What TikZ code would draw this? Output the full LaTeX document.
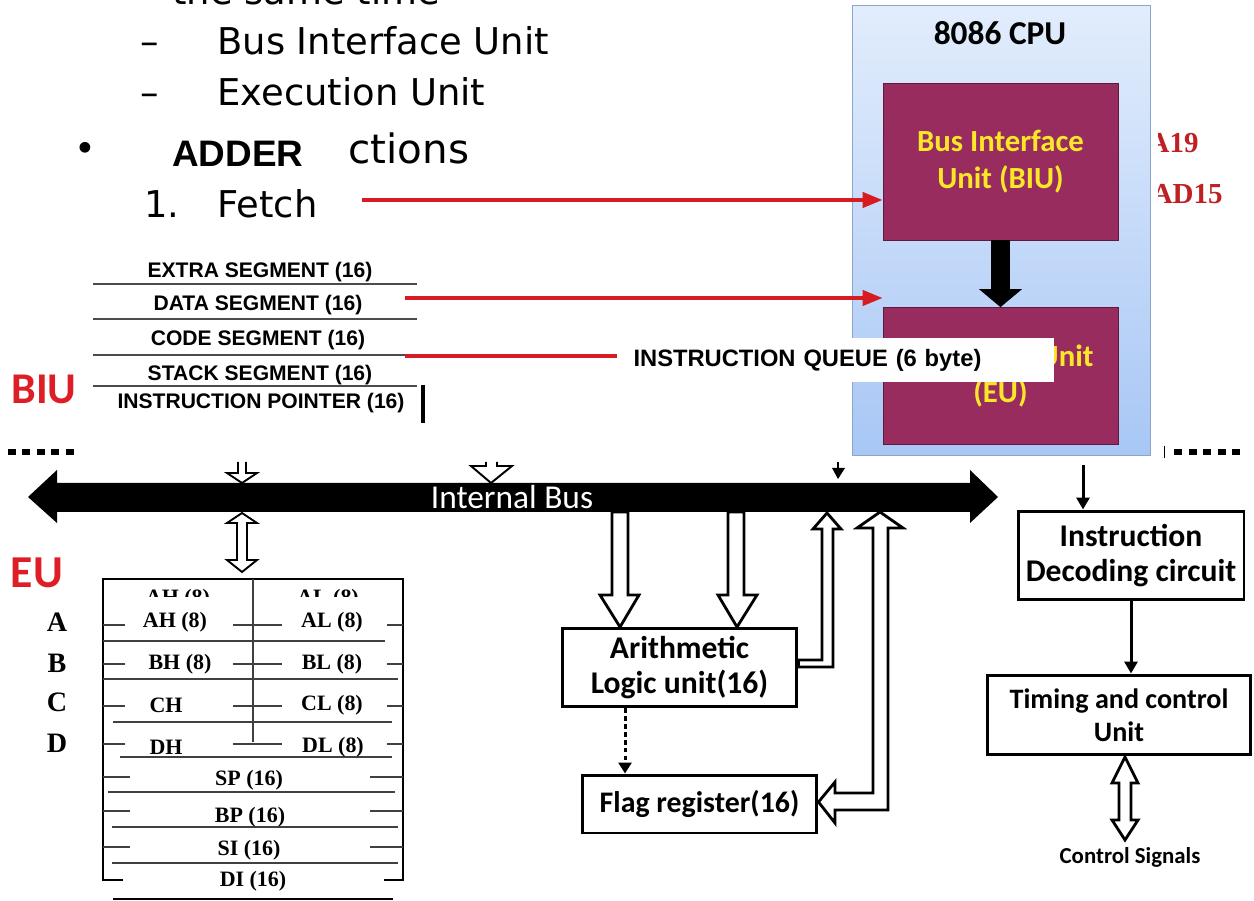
\documentclass[tikz,border=0pt]{standalone}
\usepackage{fontspec}
\setmainfont{Liberation Sans}
\newfontfamily\calfont{Carlito}
\newfontfamily\timfont{Liberation Serif}
\newfontfamily\handfont{DejaVu Sans}
\usetikzlibrary{arrows.meta, positioning}
\definecolor{cputop}{RGB}{226,237,252}
\definecolor{cpubot}{RGB}{168,199,245}
\definecolor{cpuedge}{RGB}{140,165,205}
\definecolor{maroon}{RGB}{153,44,94}
\definecolor{maroonedge}{RGB}{95,25,60}
\definecolor{unityellow}{RGB}{250,232,40}
\definecolor{redline}{RGB}{214,28,32}
\definecolor{redlabel}{RGB}{222,30,38}
\definecolor{redpin}{RGB}{190,32,36}

\begin{document}
\begin{tikzpicture}[x=0.02cm, y=-0.02cm,
    hand/.style    = {font=\handfont\fontsize{21}{25}\selectfont, inner sep=0pt},
    seg/.style     = {font=\bfseries\fontsize{12}{14}\selectfont, inner sep=0pt},
    reg/.style     = {font=\timfont\bfseries\fontsize{12.5}{15}\selectfont, inner sep=0pt},
    row/.style     = {font=\timfont\bfseries\fontsize{16}{18}\selectfont, inner sep=0pt},
    pin/.style     = {font=\timfont\bfseries\fontsize{16.5}{19}\selectfont, text=redpin, inner sep=0pt},
    cpubox/.style  = {draw=cpuedge, top color=cputop, bottom color=cpubot,
                      minimum width=5.96cm, minimum height=9cm},
    unitbox/.style = {draw=maroonedge, fill=maroon, text=unityellow, align=center,
                      minimum width=4.7cm, font=\calfont\bfseries\fontsize{17.5}{21}\selectfont},
    qbox/.style    = {fill=white, text width=8.1cm, align=left, inner xsep=0.32cm,
                      minimum height=0.88cm, font=\bfseries\fontsize{13.5}{16}\selectfont},
    blk/.style     = {draw, line width=1.7pt, fill=white, align=center,
                      font=\calfont\bfseries\fontsize{18}{20}\selectfont},
    lab/.style     = {text=redlabel, font=\calfont\bfseries\fontsize{25}{30}\selectfont},
    redarr/.style  = {draw=redline, line width=2.2pt, -{Triangle[length=0.4cm, width=0.3cm]}},
    redln/.style   = {draw=redline, line width=2.2pt},
    fatarr/.style  = {line width=0.38cm, -{Triangle[length=0.36cm, width=0.84cm]}},
    thinarr/.style = {line width=1.7pt, -{Triangle[length=0.24cm, width=0.26cm]}},
    dotarr/.style  = {line width=1.7pt, dash pattern=on 2.5pt off 2pt,
                      -{Triangle[length=0.22cm, width=0.26cm]}},
    hol/.style     = {draw, line width=1.6pt, fill=white, line join=miter},
    holsm/.style   = {draw, line width=1.1pt, fill=white, line join=miter},
    segline/.style = {line width=0.9pt, gray!60!black},
    regbox/.style  = {line width=1.7pt},
    regln/.style   = {line width=0.9pt, gray!50!black},
    sq/.style      = {line width=0.12cm, dash pattern=on 0.16cm off 0.13cm},
]
\useasboundingbox (0,0) rectangle (1254,901);

% --- texto de la diapositiva ---
\begin{scope}
  \clip (0,0) rectangle (1254,60);
  \node[hand, anchor=base west] (same) at (172,5) {the same time};
\end{scope}
\node[hand, anchor=base west] (dash1) at (140,55)  {\textendash};
\node[hand, anchor=base west] (biut)  at (217,55)  {Bus Interface Unit};
\node[hand, anchor=base west] (dash2) at (140,106) {\textendash};
\node[hand, anchor=base west] (eut)   at (217,106) {Execution Unit};
\node[hand] (bul) at (85,152) {\textbullet};
\node[font=\bfseries\fontsize{21}{24}\selectfont, anchor=base west, inner sep=0pt] (adder) at (172,167) {ADDER};
\node[hand, font=\handfont\fontsize{23}{27}\selectfont, anchor=base west] (ctions) at (348,164) {ctions};
\node[hand, anchor=base west] (one)   at (144,218) {1.};
\node[hand, anchor=base west] (fetch) at (217,218) {Fetch};

% --- registros de segmento ---
\node[seg] (es) at (260,272) {EXTRA SEGMENT (16)};
\node[seg] (ds) at (258,305) {DATA SEGMENT (16)};
\node[seg] (cs) at (258,340) {CODE SEGMENT (16)};
\node[seg] (ss) at (260,375) {STACK SEGMENT (16)};
\node[seg] (ip) at (261,403) {INSTRUCTION POINTER (16)};
\draw[segline] (93,284) -- (417,284);
\draw[segline] (93,319) -- (417,319);
\draw[segline] (93,355) -- (417,355);
\draw[segline] (93,386) -- (417,386);
\draw[line width=2.8pt] (423,385) -- (423,423);

% --- CPU ---
\node[cpubox] (cpu) at (1001,230) {};
\node[font=\calfont\bfseries\fontsize{19}{22}\selectfont] (cpul) at (1000,33) {8086 CPU};
\node[unitbox, minimum height=3.14cm] (biu) at (1000.5,161.5) {Bus Interface\\Unit (BIU)};
\node[unitbox, minimum height=2.74cm] (eu)  at (1000.5,376) {Execution Unit\\(EU)};
\draw[fatarr] (biu.south) -- (eu.north);
\node[qbox] (queue) at (836,360) {INSTRUCTION QUEUE (6 byte)};

\begin{scope}
  \clip (1158,120) rectangle (1254,220);
  \node[pin, anchor=base east] (a19)  at (1199,153) {A19};
  \node[pin, anchor=base east] (ad15) at (1223,204) {AD15};
\end{scope}

% --- flechas rojas ---
\coordinate (f0) at (362,200);
\coordinate (d0) at (405,298);
\coordinate (c0) at (405,356);
\draw[redarr] (f0) -- (f0 -| biu.west);
\draw[redarr] (d0) -- (d0 -| eu.west);
\draw[redln]  (c0) -- (c0 -| queue.west);

% --- etiquetas BIU / EU y separadores ---
\node[lab] (biulab) at (44,389) {BIU};
\node[lab, font=\calfont\bfseries\fontsize{26}{30}\selectfont] (eulab) at (37,573) {EU};
\draw[sq] (8,452) -- (76,452);
\draw[sq] (1174,452) -- (1246,452);
\draw[line width=0.5pt] (1164,446) -- (1164,458);

% --- bus interno ---
\fill (28,497) -- (57,470) -- (57,483) -- (970,483) -- (970,470) -- (998,497)
      -- (970,523) -- (970,512) -- (57,512) -- (57,523) -- cycle;
\node[font=\calfont\fontsize{19}{22}\selectfont, text=white] (busl) at (512,497) {Internal Bus};

% flechas sobre el bus
\draw[holsm] (238,462) -- (238,473) -- (227,473) -- (242,483) -- (257,473) -- (246,473) -- (246,462);
\draw[holsm] (486,462) -- (486,466) -- (471,466) -- (491,483) -- (512,466) -- (497,466) -- (497,462);
\draw[line width=1pt] (838,462) -- (838,468);
\fill (832,468) -- (845,468) -- (838,479) -- cycle;

% flecha bus <-> registros
\draw[holsm] (242,513) -- (257,523) -- (247,523) -- (247,560) -- (257,560) -- (242,572)
      -- (227,560) -- (237,560) -- (237,523) -- (227,523) -- cycle;

% --- banco de registros ---
\draw[regbox] (123,880) -- (103,880) -- (103,579) -- (403,579) -- (403,880) -- (384,880);
\draw[regbox] (113,899) -- (393,899);
\draw[regln] (253,579) -- (253,742);
\draw[regln] (103,641) -- (385,641);
\draw[regln] (103,679) -- (398,679);
\draw[regln] (113,722) -- (392,722);
\draw[regln] (120,757) -- (392,757);
\draw[regln] (108,792) -- (395,792);
\draw[regln] (112,827) -- (398,827);
\draw[regln] (112,863) -- (398,863);
\foreach \y in {625,664,706,744} {
  \draw[regln] (103,\y) -- (125,\y);
  \draw[regln] (233,\y) -- (282,\y);
  \draw[regln] (387,\y) -- (403,\y);
}
\foreach \y in {777,811,847} {
  \draw[regln] (103,\y) -- (130,\y);
  \draw[regln] (370,\y) -- (403,\y);
}
\begin{scope}
  \clip (140,588) rectangle (380,597);
  \node[reg, anchor=base] (ahx) at (178,605) {AH (8)};
  \node[reg, anchor=base] (alx) at (328,605) {AL (8)};
\end{scope}
\node[row] (ra) at (57,622) {A};
\node[row] (rb) at (57,663) {B};
\node[row] (rc) at (57,702) {C};
\node[row] (rd) at (57,743) {D};
\node[reg] (ah) at (175,622) {AH (8)};
\node[reg] (al) at (332,622) {AL (8)};
\node[reg] (bh) at (180,664) {BH (8)};
\node[reg] (bl) at (332,664) {BL (8)};
\node[reg] (ch) at (166,705) {CH};
\node[reg] (cl) at (332,705) {CL (8)};
\node[reg] (dh) at (166,747) {DH};
\node[reg] (dl) at (333,747) {DL (8)};
\node[reg] (sp) at (249,780) {SP (16)};
\node[reg] (bp) at (250,817) {BP (16)};
\node[reg] (si) at (249,850) {SI (16)};
\node[reg] (di) at (253,881) {DI (16)};

% --- ALU y flags ---
\draw[hol] (612,512) -- (628,512) -- (628,595) -- (639,595) -- (620,627) -- (600,595) -- (612,595) -- cycle;
\draw[hol] (728,512) -- (744,512) -- (744,595) -- (757,595) -- (737,627) -- (718,595) -- (728,595) -- cycle;
\node[blk, minimum width=4.7cm, minimum height=1.58cm] (alu) at (679.5,667.5) {Arithmetic\\Logic unit(16)};
\node[blk, minimum width=4.7cm, minimum height=1.16cm, font=\calfont\bfseries\fontsize{17}{20}\selectfont] (flag) at (699.5,804) {Flag register(16)};
\draw[hol] (alu.east |- 0,660) -- (822,660) -- (822,529) -- (813,529) -- (827,513) -- (841,529)
      -- (833,529) -- (833,667) -- (alu.east |- 0,667) -- cycle;
\draw[hol] (880,512) -- (903,528) -- (888,528) -- (888,810) -- (835,810) -- (835,823)
      -- (flag.east |- 0,802) -- (835,782) -- (835,793) -- (873,793) -- (873,528) -- (857,528) -- cycle;
\draw[dotarr] ([xshift=-1.09cm]alu.south) -- ([xshift=-1.09cm]alu.south |- flag.north);

% --- decodificador y control ---
\node[blk, minimum width=4.52cm, minimum height=1.78cm] (decode) at (1131,555.5) {Instruction\\Decoding circuit};
\node[blk, minimum width=5.28cm, minimum height=1.6cm, font=\calfont\bfseries\fontsize{16}{19}\selectfont] (timing) at (1119,715) {Timing and control\\Unit};
\node[font=\calfont\bfseries\fontsize{13}{15}\selectfont] (ctrl) at (1130,857) {Control Signals};
\coordinate (cpuout) at (1083,465);
\draw[thinarr] (cpuout) -- (cpuout |- decode.north);
\draw[thinarr] (decode.south) -- (decode.south |- timing.north);
\draw[hol] (1125,757) -- (1138,783) -- (1131,783) -- (1131,820) -- (1138,820) -- (1125,840)
      -- (1112,820) -- (1119,820) -- (1119,783) -- (1112,783) -- cycle;

\end{tikzpicture}
\end{document}
